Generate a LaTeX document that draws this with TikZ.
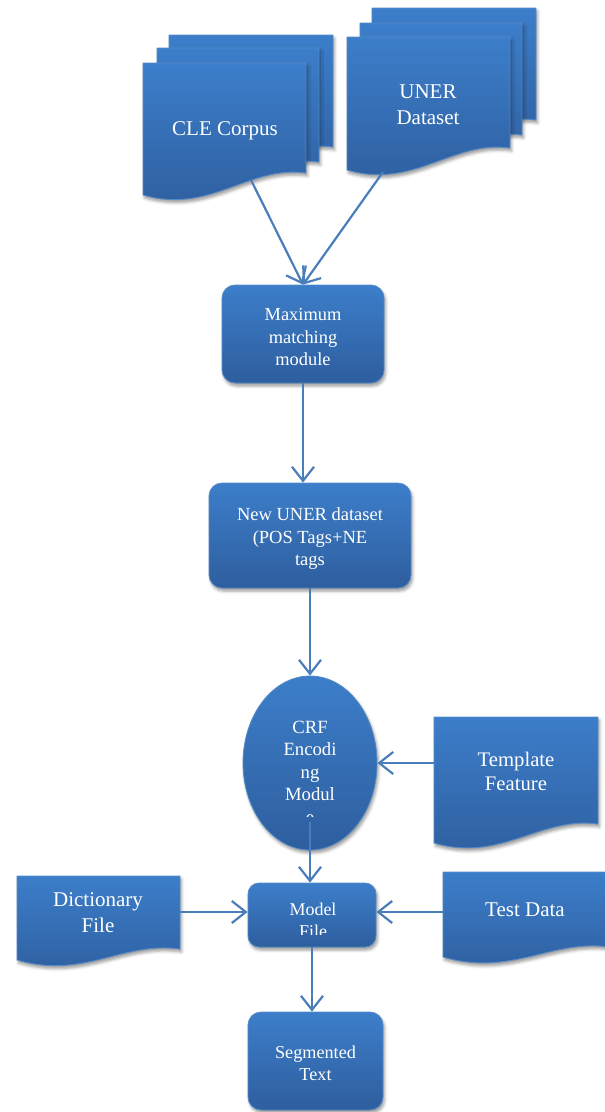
\documentclass[tikz,border=0pt]{standalone}
\usepackage{fontspec}
\setmainfont{Liberation Serif}
\usetikzlibrary{arrows.meta,shapes.geometric,shadows.blur}

\definecolor{boxtop}{RGB}{60,126,202}
\definecolor{boxbot}{RGB}{46,94,158}
\definecolor{boxedge}{RGB}{84,138,200}
\definecolor{linkblue}{RGB}{74,126,187}

\tikzset{
  blueshape/.style={draw=boxedge, line width=0.8pt, top color=boxtop, bottom color=boxbot,
    blur shadow={shadow xshift=1.5pt, shadow yshift=-3pt, shadow blur radius=3pt, shadow opacity=40}},
  roundbox/.style={blueshape, rounded corners=13pt, inner sep=0pt},
  txt/.style={text=white, align=center, inner sep=0pt},
  link/.style={draw=linkblue, line width=2.2pt, -{Straight Barb[length=14pt,width=22pt]}},
}

% document shape with a wavy bottom edge: left, top, right, bottom-left, bottom-right
\newcommand\docshape[5]{%
  \path[blueshape] (#1,#2) -- (#3,#2) -- (#3,#5)
    .. controls ({#3-0.35*(#3-#1)},{#5-0.05*(#3-#1)}) and ({#1+0.41*(#3-#1)},{#4+0.12*(#3-#1)}) .. (#1,#4) -- cycle;}

\begin{document}
\begin{tikzpicture}[x=1pt,y=-1pt]
\useasboundingbox (0,0) rectangle (605,1112);

% CLE Corpus (stacked documents)
\docshape{169}{35}{333}{169}{147}
\docshape{157}{48}{319}{184}{162}
\docshape{143}{63}{306}{195}{173}
\node[txt, font=\fontsize{21}{26}\selectfont] (cle) at (225,131) {CLE Corpus};

% UNER Dataset (stacked documents)
\docshape{372}{8}{536}{142}{120}
\docshape{360}{23}{522}{157}{135}
\docshape{347}{37}{510}{170}{148}
\node[txt, font=\fontsize{21}{26}\selectfont] (uner) at (428,104.5) {UNER\\Dataset};

% processing boxes
\node[roundbox, minimum width=162pt, minimum height=98pt] (maxbox) at (303,334) {};
\node[txt, font=\fontsize{18.4}{22.5}\selectfont] (maxtxt) at (303,337) {Maximum\\matching\\module};

\node[roundbox, minimum width=202pt, minimum height=105pt] (newbox) at (310,535.5) {};
\node[txt, font=\fontsize{18.5}{22.5}\selectfont] (newtxt) at (310,539) {New UNER dataset\\(POS Tags+NE\\tags};

% CRF encoding module (ellipse, text cut off at the bottom)
\node[ellipse, blueshape, minimum width=134pt, minimum height=174pt, inner sep=0pt] (crf) at (310,763) {};
\begin{scope}
  \clip (240,700) rectangle (380,816);
  \node[txt, font=\fontsize{18.7}{22.5}\selectfont] (crftxt) at (310,772) {CRF\\Encodi\\ng\\Modul\\e};
\end{scope}

% Template Feature
\docshape{434}{717}{598}{843}{824}
\node[txt, font=\fontsize{20.7}{24.5}\selectfont] (tpl) at (516,771.5) {Template\\Feature};

% Dictionary File
\docshape{17}{876}{180}{960}{949}
\node[txt, font=\fontsize{21}{26}\selectfont] (dict) at (98,913) {Dictionary\\File};

% Test Data
\docshape{443}{872}{610}{957}{947}
\node[txt, font=\fontsize{21}{25}\selectfont] (test) at (525,910) {Test Data};

% Model File (text cut off at the bottom)
\node[roundbox, minimum width=128pt, minimum height=64pt, rounded corners=11pt] (modelbox) at (312,915) {};
\begin{scope}
  \clip (250,885) rectangle (374,934);
  \node[txt, font=\fontsize{18}{22}\selectfont] (modeltxt) at (313,920) {Model\\File};
\end{scope}

% Segmented Text
\node[roundbox, minimum width=135pt, minimum height=98pt] (segbox) at (315.5,1061) {};
\node[txt, font=\fontsize{18.2}{22}\selectfont] (segtxt) at (315.5,1063) {Segmented\\Text};

% connectors
\coordinate (cleout) at (251,180);
\coordinate (unerout) at (383,172);
\coordinate (tplout) at (434,763);
\coordinate (crfout) at (310,822);
\coordinate (dictout) at (180,912);
\coordinate (testout) at (443,912);

\draw[link] (cleout) -- (maxbox.north);
\draw[link] (unerout) -- (maxbox.north);
\draw[link] (maxbox.south) -- (maxbox.south |- newbox.north);
\draw[link] (newbox.south) -- (crf.north);
\draw[link] (tplout) -- (crf.east);
\draw[link] (crfout) -- (crfout |- modelbox.north);
\draw[link] (dictout) -- (dictout -| modelbox.west);
\draw[link] (testout) -- (testout -| modelbox.east);
\draw[link] (modelbox.south) -- (modelbox.south |- segbox.north);
\end{tikzpicture}
\end{document}
